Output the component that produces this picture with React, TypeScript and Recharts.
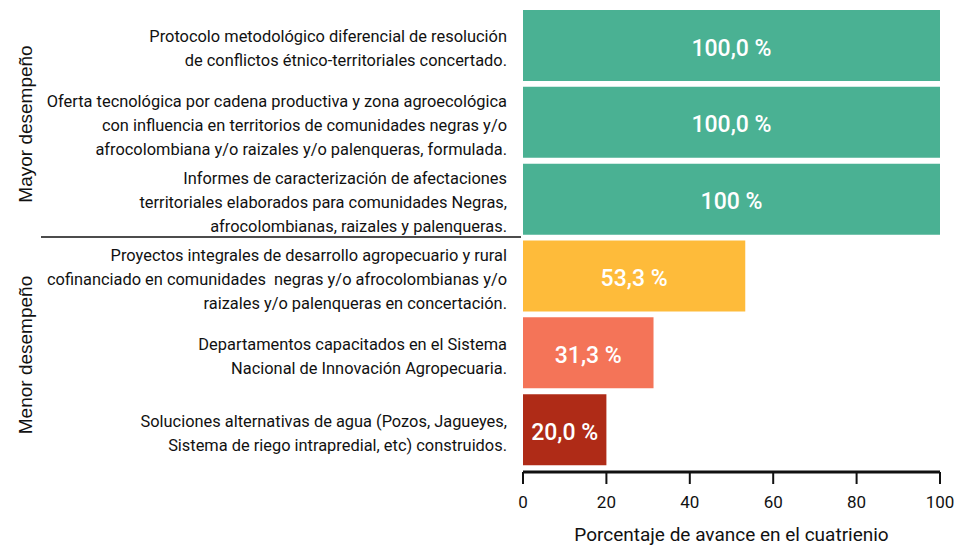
import { BarChart, Bar, XAxis, YAxis, Cell, LabelList, Label } from 'recharts'

const categories = [
  ['Protocolo metodológico diferencial de resolución', 'de conflictos étnico-territoriales concertado.'],
  [
    'Oferta tecnológica por cadena productiva y zona agroecológica',
    'con influencia en territorios de comunidades negras y/o',
    'afrocolombiana y/o raizales y/o palenqueras, formulada.',
  ],
  [
    'Informes de caracterización de afectaciones',
    'territoriales elaborados para comunidades Negras,',
    'afrocolombianas, raizales y palenqueras.',
  ],
  [
    'Proyectos integrales de desarrollo agropecuario y rural',
    'cofinanciado en comunidades  negras y/o afrocolombianas y/o',
    'raizales y/o palenqueras en concertación.',
  ],
  ['Departamentos capacitados en el Sistema', 'Nacional de Innovación Agropecuaria.'],
  ['Soluciones alternativas de agua (Pozos, Jagueyes,', 'Sistema de riego intrapredial, etc) construidos.'],
]
const values = [100, 100, 100, 53.3, 31.3, 20]
const valueLabels = ['100,0 %', '100,0 %', '100 %', '53,3 %', '31,3 %', '20,0 %']
const barColors = ['#4AB193', '#4AB193', '#4AB193', '#FEBB3A', '#F47458', '#AF2B17']
const xTicks = [0, 20, 40, 60, 80, 100]
const xTitle = 'Porcentaje de avance en el cuatrienio'

const FONT = 'Roboto, "Noto Sans", sans-serif'

const data = categories.map((lines, i) => ({
  name: String(i),
  value: values[i],
  label: valueLabels[i],
}))

function CategoryTick({ x, y, payload }: any) {
  const lines = categories[Number(payload.value)]
  const lh = 24
  const start = -((lines.length - 1) * lh) / 2
  return (
    <text x={x} y={y} textAnchor="end" fill="#111" fontSize={16.4} fontFamily={FONT}>
      {lines.map((l, i) => (
        <tspan key={i} x={x} dy={i === 0 ? start + 9 : lh} style={{ whiteSpace: 'pre' }}>
          {l}
        </tspan>
      ))}
    </text>
  )
}

function AxisTitle({ viewBox }: any) {
  const { x, y, width, height } = viewBox
  return (
    <text
      x={x + width / 2}
      y={y + height - 5}
      textAnchor="middle"
      fill="#111"
      fontSize={19}
      fontFamily={FONT}
    >
      {xTitle}
    </text>
  )
}

export default function App() {
  return (
    <div style={{ position: 'absolute', left: 0, top: 0, width: 954, height: 546, background: '#fff' }}>
      <BarChart
        width={954}
        height={546}
        data={data}
        layout="vertical"
        margin={{ top: 7, right: 14, bottom: 0, left: 0 }}
        barCategoryGap={3}
      >
        <XAxis
          type="number"
          domain={[0, 100]}
          ticks={xTicks}
          height={74}
          axisLine={{ stroke: '#111', strokeWidth: 3 }}
          tickLine={{ stroke: '#111', strokeWidth: 2 }}
          tickSize={12}
          tickMargin={12}
          tick={{ fill: '#111', fontSize: 17, fontFamily: FONT }}
        >
          <Label content={<AxisTitle />} />
        </XAxis>
        <YAxis
          type="category"
          dataKey="name"
          width={523}
          axisLine={false}
          tickLine={false}
          tickSize={0}
          tickMargin={16}
          padding={{ top: 0, bottom: 4 }}
          tick={<CategoryTick />}
          interval={0}
        />
        <Bar dataKey="value" isAnimationActive={false}>
          {data.map((d, i) => (
            <Cell key={d.name} fill={barColors[i]} />
          ))}
          <LabelList
            dataKey="label"
            position="center"
            fill="#fff"
            fontSize={23}
            fontWeight={500}
            fontFamily={FONT}
            dy={2}
          />
        </Bar>
      </BarChart>
      <svg
        width={954}
        height={546}
        style={{ position: 'absolute', left: 0, top: 0, pointerEvents: 'none' }}
      >
        <line x1={41} x2={521} y1={237} y2={237} stroke="#111" strokeWidth={1.5} />
        <text
          transform="translate(32,124) rotate(-90)"
          textAnchor="middle"
          fontSize={19}
          fontFamily='"Liberation Sans", Arial, sans-serif'
          fill="#111"
        >
          Mayor desempeño
        </text>
        <text
          transform="translate(32,355) rotate(-90)"
          textAnchor="middle"
          fontSize={19}
          fontFamily='"Liberation Sans", Arial, sans-serif'
          fill="#111"
        >
          Menor desempeño
        </text>
      </svg>
    </div>
  )
}
